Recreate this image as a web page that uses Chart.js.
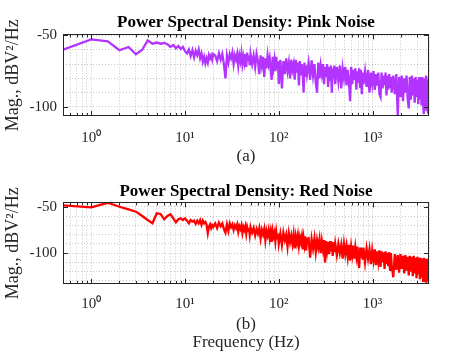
<!DOCTYPE html>
<html><head><meta charset="utf-8">
<script src="https://cdn.jsdelivr.net/npm/chart.js@4/dist/chart.umd.min.js"></script>
<style>
html,body{margin:0;padding:0;background:#fff;width:474px;height:355px;overflow:hidden}
canvas{position:absolute;left:0}
</style></head>
<body>
<canvas id="c1" width="474" height="170" style="top:0"></canvas>
<canvas id="c2" width="474" height="185" style="top:170px"></canvas>
<script>
// ---- data ----
const freqHz = [0.5,1,1.5,2,2.5,3,3.5,4,4.5,5,5.5,6,6.5,7,7.5,8,8.5,9,9.5,10,10.5,11,11.5,12,12.5,13,13.5,14,14.5,15,15.5,16,16.5,17,17.5,18,18.5,19,19.5,20,
21,22,23,24,25,26,27,28,29,30,31,32,33,34,35,36,37,38,39,40,41,42,43,44,45,46,47,48,49,50,
52,54,56,58,60,62,64,66,68,70,72,74,76,78,80,82,84,86,88,90,92,94,96,98,100,
104,108,112,116,120,124,128,132,136,140,144,148,152,156,160,164,168,172,176,180,184,188,192,196,200,
208,216,224,232,240,248,256,264,272,280,288,296,304,312,320,328,336,344,352,360,368,376,384,392,400,
416,432,448,464,480,496,512,528,544,560,576,592,608,624,640,656,672,688,704,720,736,752,768,784,800,
832,864,896,928,960,992,1024,1056,1088,1120,1152,1184,1216,1248,1280,1312,1344,1376,1408,1440,1472,1504,1536,1568,1600,
1664,1728,1792,1856,1920,1984,2048,2112,2176,2240,2304,2368,2432,2496,2560,2624,2688,2752,2816,2880,2944,3008,3072,3136,3200,3264,3328,3392,3456,3520,3584,3648,3712,3776,3840,3904,3968,4000];

const pinkDb = [-60,-52.8,-54.2,-60.4,-58.1,-63.2,-60,-53.5,-55.8,-55,-55.8,-55.3,-56.2,-58,-56.7,-59,-57.4,-59.5,-58,-61,-62.6,-59.8,-64.4,-60.3,-65.4,-60.7,-63.7,-59.8,-66,-62.6,-68.4,-64.9,-69.5,-66,-69,-63.7,-66,-64,-67,-63,
-64,-68,-62.5,-67,-63,-70,-80,-64,-69,-63,-66,-62,-70,-64,-67,-63,-71,-64,-68,-62.5,-70,-65,-69,-63,-72,-62,-67,-64,-71,-63,
-70,-64,-72,-63,-68,-77,-64,-71,-65,-79,-66,-73,-64,-70,-66,-74,-81,-65,-72,-67,-75,-65,-73,-68,-84,
-67,-87,-68,-77,-66,-75,-69,-80,-67,-74,-70,-81,-67,-76,-69,-85,-68,-78,-70,-76,-90,-69,-79,-71,-77,
-69,-81,-67.5,-78,-70,-83,-90,-69,-80,-71,-77,-70,-84,-72,-79,-70,-86,-72,-81,-71,-90,-73,-80,-71,-84,
-72,-82,-71,-87,-73,-80,-72,-85,-74,-82,-96,-72,-84,-74,-81,-73,-88,-75,-83,-73,-86,-74,-91,-76,-84,
-75,-86,-74,-90,-76,-84,-75,-88,-77,-85,-76,-91,-93,-76,-87,-78,-85,-76,-92,-78,-88,-77,-86,-79,-90,
-78,-91,-77,-106,-79,-93,-78,-96,-80,-90,-78,-94,-101,-79,-95,-78,-92,-80,-97,-79,-93,-81,-98,-79,-95,-80,-99,-79,-96,-105,-80,-101,-78,-103,-81,-104,-79,-97];

const redDb = [-48.5,-50.7,-45.7,-50,-52.8,-55.3,-60,-64.3,-67.8,-57,-57.8,-63.5,-60,-58.2,-62.5,-66.8,-63.5,-62.5,-64.3,-62.5,-65,-67.8,-64.3,-66,-65,-68.5,-65,-67.8,-64.3,-69.5,-65,-67.8,-66.5,-69.5,-78.5,-71.3,-69,-73,-70,-72,
-68,-73,-67,-71,-68,-74,-78,-69,-76,-68,-72,-69,-75,-70,-73,-69,-77,-71,-74,-70,-78,-72,-75,-71,-79,-72,-76,-73,-80,-72,
-78,-73,-81,-74,-79,-73,-84,-75,-80,-74,-86,-76,-81,-75,-84,-77,-88,-76,-82,-78,-87,-77,-84,-79,-90,
-79,-91,-78,-86,-80,-93,-79,-88,-81,-90,-80,-95,-82,-89,-81,-92,-83,-88,-82,-96,-84,-91,-82,-97,-85,
-84,-105,-85,-95,-84,-99,-86,-94,-85,-100,-87,-96,-86,-110,-87,-97,-88,-101,-87,-98,-89,-103,-88,-99,-90,
-102,-90,-100,-91,-106,-90,-101,-92,-104,-91,-108,-93,-102,-92,-106,-94,-103,-93,-109,-116,-94,-105,-95,-107,-94,
-110,-95,-106,-96,-112,-97,-108,-96,-113,-98,-109,-97,-115,-98,-110,-99,-117,-98,-112,-100,-114,-99,-118,-100,-113,
-126,-101,-118,-102,-121,-101,-117,-103,-122,-102,-119,-104,-124,-103,-120,-104,-125,-103,-122,-105,-127,-104,-123,-105,-128,-105,-126,-106,-130,-105,-127,-106,-132,-107,-130,-106,-133,-108];

const decadeTicks = [1, 10, 100, 1000];
const decadeLabels = ['10\u2070', '10\u00B9', '10\u00B2', '10\u00B3'];
const yMajorTicks = [-100, -50];
const titles = ['Power Spectral Density: Pink Noise', 'Power Spectral Density: Red Noise'];
const yTitle = 'Mag., dBV\u00B2/Hz';
const xTitles = ['(a)', ['(b)', 'Frequency (Hz)']];

// ---- styling / layout ----
const SERIF = "'Liberation Serif','Times New Roman',serif";
const GRID = 'rgba(0,0,0,0.22)';
const X_MIN = 0.5, X_MAX = 4000;

const xGrid = [];
[0.1, 1, 10, 100, 1000].forEach(d => { for (let k = 1; k <= 9; k++) { const v = d * k; if (v >= X_MIN - 1e-9 && v <= X_MAX + 1e-9) xGrid.push(v); } });

const boxPlugin = {
  id: 'matlabBox',
  afterDatasetsDraw(chart) {
    const { ctx, chartArea: a, scales: { x, y } } = chart;
    ctx.save();
    ctx.strokeStyle = '#262626';
    ctx.lineWidth = 1;
    ctx.beginPath();
    x.ticks.forEach(t => {
      if (t.value <= X_MIN + 1e-6 || t.value >= X_MAX - 1e-6) return;
      const p = Math.round(x.getPixelForValue(t.value)) + 0.5;
      const L = decadeTicks.includes(t.value) ? 5 : 3;
      ctx.moveTo(p, a.bottom); ctx.lineTo(p, a.bottom - L);
      ctx.moveTo(p, a.top); ctx.lineTo(p, a.top + L);
    });
    yMajorTicks.forEach(v => {
      const p = Math.round(y.getPixelForValue(v)) + 0.5;
      ctx.moveTo(a.left, p); ctx.lineTo(a.left + 5, p);
      ctx.moveTo(a.right, p); ctx.lineTo(a.right - 5, p);
    });
    ctx.stroke();
    ctx.strokeRect(Math.round(a.left) + 0.5, Math.round(a.top) + 0.5, Math.round(a.right - a.left) - 1, Math.round(a.bottom - a.top) - 1);
    ctx.restore();
  }
};

function makeChart(id, values, color, yMin, yMax, title, xTitle, xScaleH, titlePad, xTitlePadB, xTickPad) {
  const pts = freqHz.map((f, i) => ({ x: f, y: values[i] }));
  const yGrid = [];
  for (let v = Math.ceil(yMin / 10) * 10; v <= yMax; v += 10) yGrid.push(v);
  return new Chart(document.getElementById(id), {
    type: 'line',
    data: { datasets: [{ data: pts, borderColor: color, borderWidth: 2.3, pointRadius: 0, tension: 0, fill: false, borderJoinStyle: 'miter' }] },
    options: {
      responsive: false, animation: false, devicePixelRatio: 1,
      layout: { padding: { left: 0, right: 45, top: 0, bottom: 0 } },
      plugins: {
        legend: { display: false }, tooltip: { enabled: false },
        title: { display: true, text: title, fullSize: false, color: '#000',
          font: { family: SERIF, size: 17, weight: 'bold', lineHeight: 1.2 }, padding: titlePad }
      },
      scales: {
        x: {
          type: 'logarithmic', min: X_MIN, max: X_MAX,
          afterBuildTicks: s => { s.ticks = xGrid.map(v => ({ value: v })); },
          afterFit: s => { s.height = xScaleH; },
          ticks: { autoSkip: false, maxRotation: 0, minRotation: 0, color: '#262626',
            font: { family: SERIF, size: 15 }, padding: xTickPad,
            callback: v => { const i = decadeTicks.indexOf(v); return i >= 0 ? decadeLabels[i] : ''; } },
          grid: { color: GRID, drawTicks: false, lineWidth: 1 },
          border: { display: false, dash: [1, 2] },
          title: { display: true, text: xTitle, color: '#262626',
            font: { family: SERIF, size: 17, lineHeight: 1.06 }, padding: { top: 0, bottom: xTitlePadB } }
        },
        y: {
          min: yMin, max: yMax,
          afterBuildTicks: s => { s.ticks = yGrid.map(v => ({ value: v })); },
          afterFit: s => { s.width = 63; },
          ticks: { autoSkip: false, color: '#262626', font: { family: SERIF, size: 15 }, padding: 6,
            callback: v => yMajorTicks.includes(v) ? String(v) : '' },
          grid: { color: GRID, drawTicks: false, lineWidth: 1 },
          border: { display: false, dash: [1, 2] },
          title: { display: true, text: yTitle, color: '#262626',
            font: { family: SERIF, size: 18, lineHeight: 1.2 }, padding: { top: 2, bottom: 0 } }
        }
      }
    },
    plugins: [boxPlugin]
  });
}

makeChart('c1', pinkDb, 'rgb(179,51,255)', -106.3, -49.3, titles[0], xTitles[0], 54, { top: 12, bottom: 2 }, 4, 13);
makeChart('c2', redDb, 'rgb(255,0,0)', -133.3, -45.3, titles[1], xTitles[1], 71, { top: 11, bottom: 1 }, 3, 11);
</script>
</body></html>
